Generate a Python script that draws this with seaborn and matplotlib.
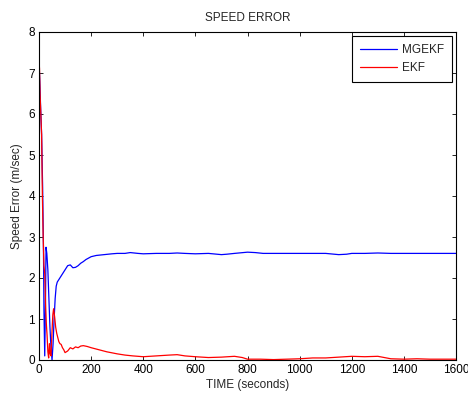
import matplotlib
matplotlib.use("Agg")
import matplotlib.pyplot as plt
import seaborn as sns
import pandas as pd
import numpy as np

# Data
t_mgekf = [0, 3, 6, 10, 14, 17, 19, 22, 25, 27, 30, 34, 38, 42, 46, 50, 54, 58, 62, 66, 70,
           80, 90, 100, 110, 120, 130, 140, 150, 160, 170, 180, 200, 220, 250, 280, 300,
           330, 350, 380, 400, 450, 500, 530, 560, 600, 650, 700, 720, 750, 800, 830, 860,
           900, 950, 1000, 1050, 1100, 1150, 1180, 1200, 1250, 1300, 1350, 1400, 1450,
           1500, 1550, 1600]
v_mgekf = [7.3, 6.8, 6.2, 5.5, 4.2, 2.8, 1.2, 0.1, 1.5, 2.75, 2.6, 2.2, 1.5, 0.8, 0.3, 0.0, 0.4,
           1.0, 1.5, 1.8, 1.9, 2.0, 2.1, 2.2, 2.3, 2.32, 2.25, 2.26, 2.3, 2.36, 2.4, 2.45,
           2.52, 2.55, 2.57, 2.59, 2.6, 2.6, 2.62, 2.6, 2.59, 2.6, 2.6, 2.61, 2.6, 2.59,
           2.6, 2.57, 2.58, 2.6, 2.63, 2.62, 2.6, 2.6, 2.6, 2.6, 2.6, 2.6, 2.57, 2.58,
           2.6, 2.6, 2.61, 2.6, 2.6, 2.6, 2.6, 2.6, 2.6]

t_ekf = [0, 2, 4, 7, 10, 13, 16, 19, 22, 25, 28, 31, 34, 37, 40, 43, 46, 50, 53, 56, 60, 64,
         68, 72, 76, 80, 85, 90, 95, 100, 110, 120, 130, 140, 150, 160, 170, 185, 200, 230,
         260, 300, 330, 360, 400, 450, 500, 530, 560, 600, 650, 700, 750, 780, 800, 850,
         900, 950, 1000, 1050, 1100, 1150, 1200, 1250, 1300, 1350, 1400, 1450, 1500, 1550,
         1600]
v_ekf = [7.3, 7.1, 6.5, 6.0, 5.5, 4.0, 3.0, 2.3, 2.1, 1.4, 0.9, 0.6, 0.2, 0.05, 0.4, 0.15, 0.1,
         0.7, 1.1, 1.25, 1.05, 0.8, 0.65, 0.55, 0.45, 0.4, 0.38, 0.3, 0.25, 0.18, 0.22,
         0.3, 0.27, 0.32, 0.3, 0.34, 0.35, 0.33, 0.3, 0.25, 0.2, 0.15, 0.12, 0.1, 0.08,
         0.1, 0.12, 0.13, 0.1, 0.08, 0.06, 0.07, 0.09, 0.06, 0.02, 0.02, 0.01, 0.02, 0.03,
         0.05, 0.05, 0.07, 0.09, 0.08, 0.09, 0.03, 0.02, 0.03, 0.02, 0.02, 0.02]

series_names = ["MGEKF", "EKF"]
x_ticks = [0, 200, 400, 600, 800, 1000, 1200, 1400, 1600]
y_ticks = [0, 1, 2, 3, 4, 5, 6, 7, 8]

df = pd.concat([
    pd.DataFrame({"t": t_mgekf, "v": v_mgekf, "s": series_names[0]}),
    pd.DataFrame({"t": t_ekf, "v": v_ekf, "s": series_names[1]}),
])

sns.set_theme(style="white")
plt.rcParams["font.family"] = ["Liberation Sans", "DejaVu Sans"]

fig = plt.figure(figsize=(4.68, 3.97), dpi=100)
ax = fig.add_axes([39 / 468, 37 / 397, (456 - 39) / 468, (360 - 32) / 397])

sns.lineplot(data=df, x="t", y="v", hue="s", palette={"MGEKF": "#0000ff", "EKF": "#ff0000"},
             linewidth=0.9, ax=ax, sort=False, estimator=None)

ax.set_xlim(0, 1600)
ax.set_ylim(0, 8)
ax.set_xticks(x_ticks)
ax.set_yticks(y_ticks)
ax.tick_params(direction="in", length=3, width=0.6, top=True, right=True,
               bottom=True, left=True, labelsize=8.5, colors="black", pad=3)
for sp in ax.spines.values():
    sp.set_color("black")
    sp.set_linewidth(0.8)

ax.set_xlabel("TIME (seconds)", fontsize=8.5, labelpad=2)
ax.set_ylabel("Speed Error (m/sec)", fontsize=8.5, labelpad=4)
ax.set_title("SPEED ERROR", fontsize=8.5, pad=8)

leg = ax.legend(loc="upper right", fontsize=8.5, frameon=True, fancybox=False,
                edgecolor="black", borderaxespad=0.35, handlelength=3.1,
                handletextpad=0.45, borderpad=0.65, labelspacing=0.55)
leg.get_frame().set_linewidth(0.8)
leg.get_frame().set_alpha(1)

fig.savefig("out.png", dpi=100)
